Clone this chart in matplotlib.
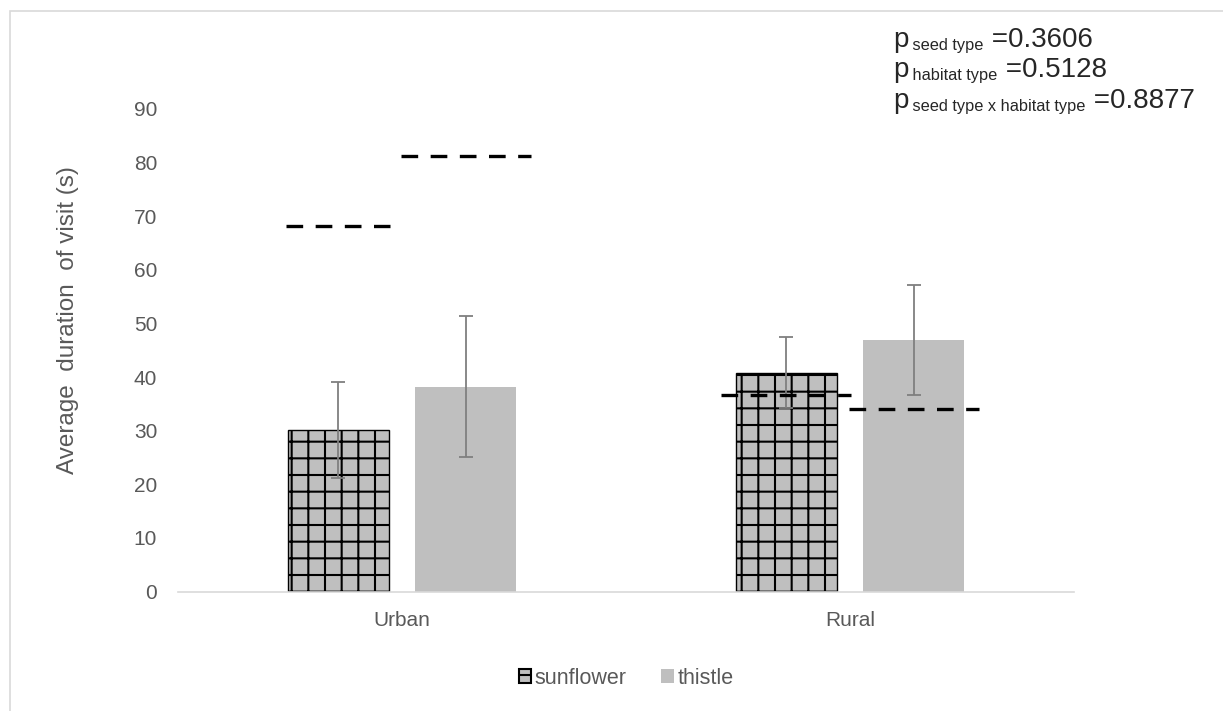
import numpy as np
import matplotlib
matplotlib.use('Agg')
import matplotlib.pyplot as plt
from matplotlib.patches import Rectangle, Patch

plt.rcParams['font.family'] = ['Liberation Sans', 'DejaVu Sans']
plt.rcParams['hatch.linewidth'] = 1.5
plt.rcParams['lines.scale_dashes'] = False

# data
habitats = ['Urban', 'Rural']
series = ['sunflower', 'thistle']
sunflower_mean = [30.1, 40.8]
sunflower_err = [9.0, 6.6]
thistle_mean = [38.2, 46.9]
thistle_err = [13.1, 10.2]
# dashed reference levels (sunflower, thistle) per habitat
sunflower_ref = [68.1, 36.7]
thistle_ref = [81.3, 34.0]
p_labels = ['seed type', 'habitat type', 'seed type x habitat type']
p_values = ['0.3606', '0.5128', '0.8877']
yticks = np.arange(0, 100, 10)

TXT = '#595959'
BAR = '#bfbfbf'

fig = plt.figure(figsize=(12.23, 7.11), dpi=100)
ax = fig.add_axes([178 / 1223, 1 - 591.5 / 711, (1074 - 178) / 1223, (591.5 - 109) / 711])

x = np.arange(len(habitats))
w = 0.226
off = 0.142

b1 = ax.bar(x - off, sunflower_mean, w, color=BAR, edgecolor='black', hatch='+',
            linewidth=1.0, zorder=2)
b2 = ax.bar(x + off, thistle_mean, w, color=BAR, edgecolor='none', zorder=2)

ax.errorbar(x - off, sunflower_mean, yerr=sunflower_err, fmt='none', ecolor='#7f7f7f',
            elinewidth=1.3, capsize=5, capthick=1.3, zorder=3)
ax.errorbar(x + off, thistle_mean, yerr=thistle_err, fmt='none', ecolor='#7f7f7f',
            elinewidth=1.3, capsize=5, capthick=1.3, zorder=3)

# dashed segments
dash_w = 0.29
for i in range(len(habitats)):
    for c, refs in [(-off, sunflower_ref), (off, thistle_ref)]:
        ww = 0.232 if (i == 0 and c < 0) else dash_w
        cx = x[i] + c
        ax.plot([cx - ww / 2, cx + ww / 2], [refs[i], refs[i]], color='black',
                lw=2.4, dashes=(12, 9), dash_capstyle='butt', zorder=4)

ax.set_xlim(-0.5, 1.5)
ax.set_ylim(0, 90)
ax.set_yticks(yticks)
ax.set_xticks(x)
ax.set_xticklabels(habitats)
ax.tick_params(axis='both', length=0, colors=TXT, labelsize=15)
ax.tick_params(axis='y', pad=15)
ax.tick_params(axis='x', pad=14)
for s in ['top', 'right', 'left']:
    ax.spines[s].set_visible(False)
ax.spines['bottom'].set_color('#d9d9d9')
ax.spines['bottom'].set_linewidth(1.2)
ax.set_ylabel('Average  duration  of visit (s)', color=TXT, fontsize=17.5)
ax.yaxis.set_label_coords(-0.11, 0.563)

h1 = Patch(facecolor=BAR, edgecolor='black', hatch='-', linewidth=1.5)
h2 = Patch(facecolor=BAR, edgecolor='none')
leg = fig.legend(handles=[h1, h2], labels=series, loc='center', bbox_to_anchor=(626 / 1223, 1 - 678 / 711),
                 ncol=2, frameon=False, fontsize=15.5, handlelength=0.6, handleheight=0.6,
                 handletextpad=0.15, columnspacing=1.6)
for t in leg.get_texts():
    t.set_color(TXT)

# p-value annotation: "p", small subscript, then the value
baselines = [47, 77, 108]
for lab, pv, yb in zip(p_labels, p_values, baselines):
    tp = fig.text(893 / 1223, 1 - yb / 711, 'p', fontsize=20, color='#262626', va='baseline', ha='left')
    ts = ax.annotate(' ' + lab, xy=(1, 0), xycoords=tp, fontsize=11.8, color='#262626',
                     va='bottom', ha='left', annotation_clip=False)
    ax.annotate(' =' + pv, xy=(1, 0), xycoords=(ts, tp), fontsize=20, color='#262626',
                va='bottom', ha='left', annotation_clip=False)

# light border around the chart
fig.patches.append(Rectangle((10 / 1223, -0.1), 1.2, 1 - 11 / 711 + 0.1, transform=fig.transFigure,
                             fill=False, edgecolor='#d9d9d9', lw=1.2))

fig.savefig('out.png', dpi=100)
